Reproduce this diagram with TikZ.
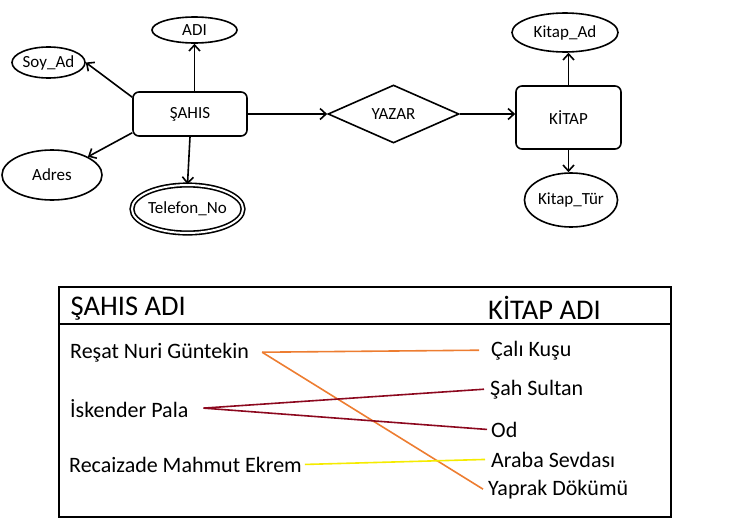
\documentclass[tikz,border=0pt]{standalone}
\usepackage{fontspec}
\setmainfont{Carlito}
\usepackage{tikz}
\usetikzlibrary{arrows.meta,shapes.geometric,positioning}

\definecolor{turuncu}{RGB}{237,125,49}
\definecolor{bordo}{RGB}{140,8,30}
\definecolor{sari}{RGB}{245,235,0}

\begin{document}
\begin{tikzpicture}
	[x=1pt,y=-1pt,
	varlik/.style={rectangle,rounded corners=6pt,draw=black,line width=1.6pt,
		inner sep=0pt,font=\fontsize{17}{19}\selectfont},
	nitelik/.style={ellipse,draw=black,line width=1.6pt,
		inner sep=0pt,font=\fontsize{17}{19}\selectfont},
	iliski/.style={diamond,draw=black,line width=1.6pt,
		inner sep=0pt,font=\fontsize{17}{19}\selectfont},
	ok/.style={-{Straight Barb[length=6pt,width=11pt]},line width=1.6pt},
	baslik/.style={anchor=base west,inner sep=0pt,font=\fontsize{28.5}{30}\selectfont},
	isim/.style={anchor=base west,inner sep=0pt,font=\fontsize{22}{24}\selectfont},
	bag/.style={line width=1.6pt}]
	\useasboundingbox (0,0) rectangle (738,530);
	%  varliklar ve iliski
	\node[varlik,minimum width=114pt,minimum height=44pt] (sahis) at (190,114) {ŞAHIS};
	\node[iliski,minimum width=131pt,minimum height=58pt] (yazar) at (393.5,114) {YAZAR};
	\node[varlik,minimum width=105pt,minimum height=63pt] (kitap) at (568.5,117.5) {KİTAP};
	%  nitelikler
	\node[nitelik,minimum width=85pt,minimum height=26pt] (adi) at (194.5,30) {ADI};
	\node[nitelik,minimum width=73pt,minimum height=31pt] (soyad) at (48.5,62.5) {Soy\_Ad};
	\node[nitelik,minimum width=100pt,minimum height=50pt] (adres) at (52,175) {Adres};
	\node[nitelik,double,double distance=2pt,minimum width=95pt,minimum height=48pt] (telefon) at (187.5,209) {Telefon\_No};
	\node[nitelik,minimum width=106pt,minimum height=39pt] (kitapad) at (565,32.5) {Kitap\_Ad};
	\node[nitelik,minimum width=84pt,minimum height=54pt] (kitaptur) at (571,200) {Kitap\_Tür};
	%  oklar
	\draw[ok] (adi.south |- sahis.north) -- (adi.south);
	\draw[ok] ([yshift=-6pt]sahis.north west) -- (soyad.east);
	\draw[ok] ([yshift=4pt]sahis.south west) -- (adres.north east);
	\draw[ok] (sahis.south) -- (telefon.north);
	\draw[ok] (sahis.east) -- (yazar.west);
	\draw[ok] (yazar.east) -- (yazar.east -| kitap.west);
	\draw[ok] (kitap.north) -- (kitap.north |- kitapad.south);
	\draw[ok] (kitap.south) -- (kitap.south |- kitaptur.north);

	%  alt tablo
	\draw[line width=1.8pt] (59,287) rectangle (671,517);
	\draw[line width=1.8pt] (59,324) -- (671,324);
	\node[baslik] (sahisadi) at (70.5,315) {ŞAHIS ADI};
	\node[baslik] (kitapadi) at (488,319) {KİTAP ADI};
	%  yazarlar
	\node[isim] (resat) at (70,358) {Reşat Nuri Güntekin};
	\node[isim] (iskender) at (70,417) {İskender Pala};
	\node[isim] (recaizade) at (69,472) {Recaizade Mahmut Ekrem};
	%  kitaplar
	\node[isim] (calikusu) at (491,356) {Çalı Kuşu};
	\node[isim] (sahsultan) at (490,395) {Şah Sultan};
	\node[isim] (od) at (491,437) {Od};
	\node[isim] (araba) at (491,467) {Araba Sevdası};
	\node[isim] (yaprak) at (488,495) {Yaprak Dökümü};
	%  baglar
	\draw[bag,turuncu] ([xshift=13pt]resat.east) -- ([xshift=-12pt]calikusu.west);
	\draw[bag,turuncu] ([xshift=13pt]resat.east) -- ([xshift=-5pt]yaprak.west);
	\draw[bag,bordo] ([xshift=15pt]iskender.east) -- ([xshift=-6pt]sahsultan.west);
	\draw[bag,bordo] ([xshift=15pt]iskender.east) -- ([xshift=-4pt]od.west);
	\draw[bag,sari] ([xshift=3pt]recaizade.east) -- ([xshift=-6pt]araba.west);
\end{tikzpicture}
\end{document}
